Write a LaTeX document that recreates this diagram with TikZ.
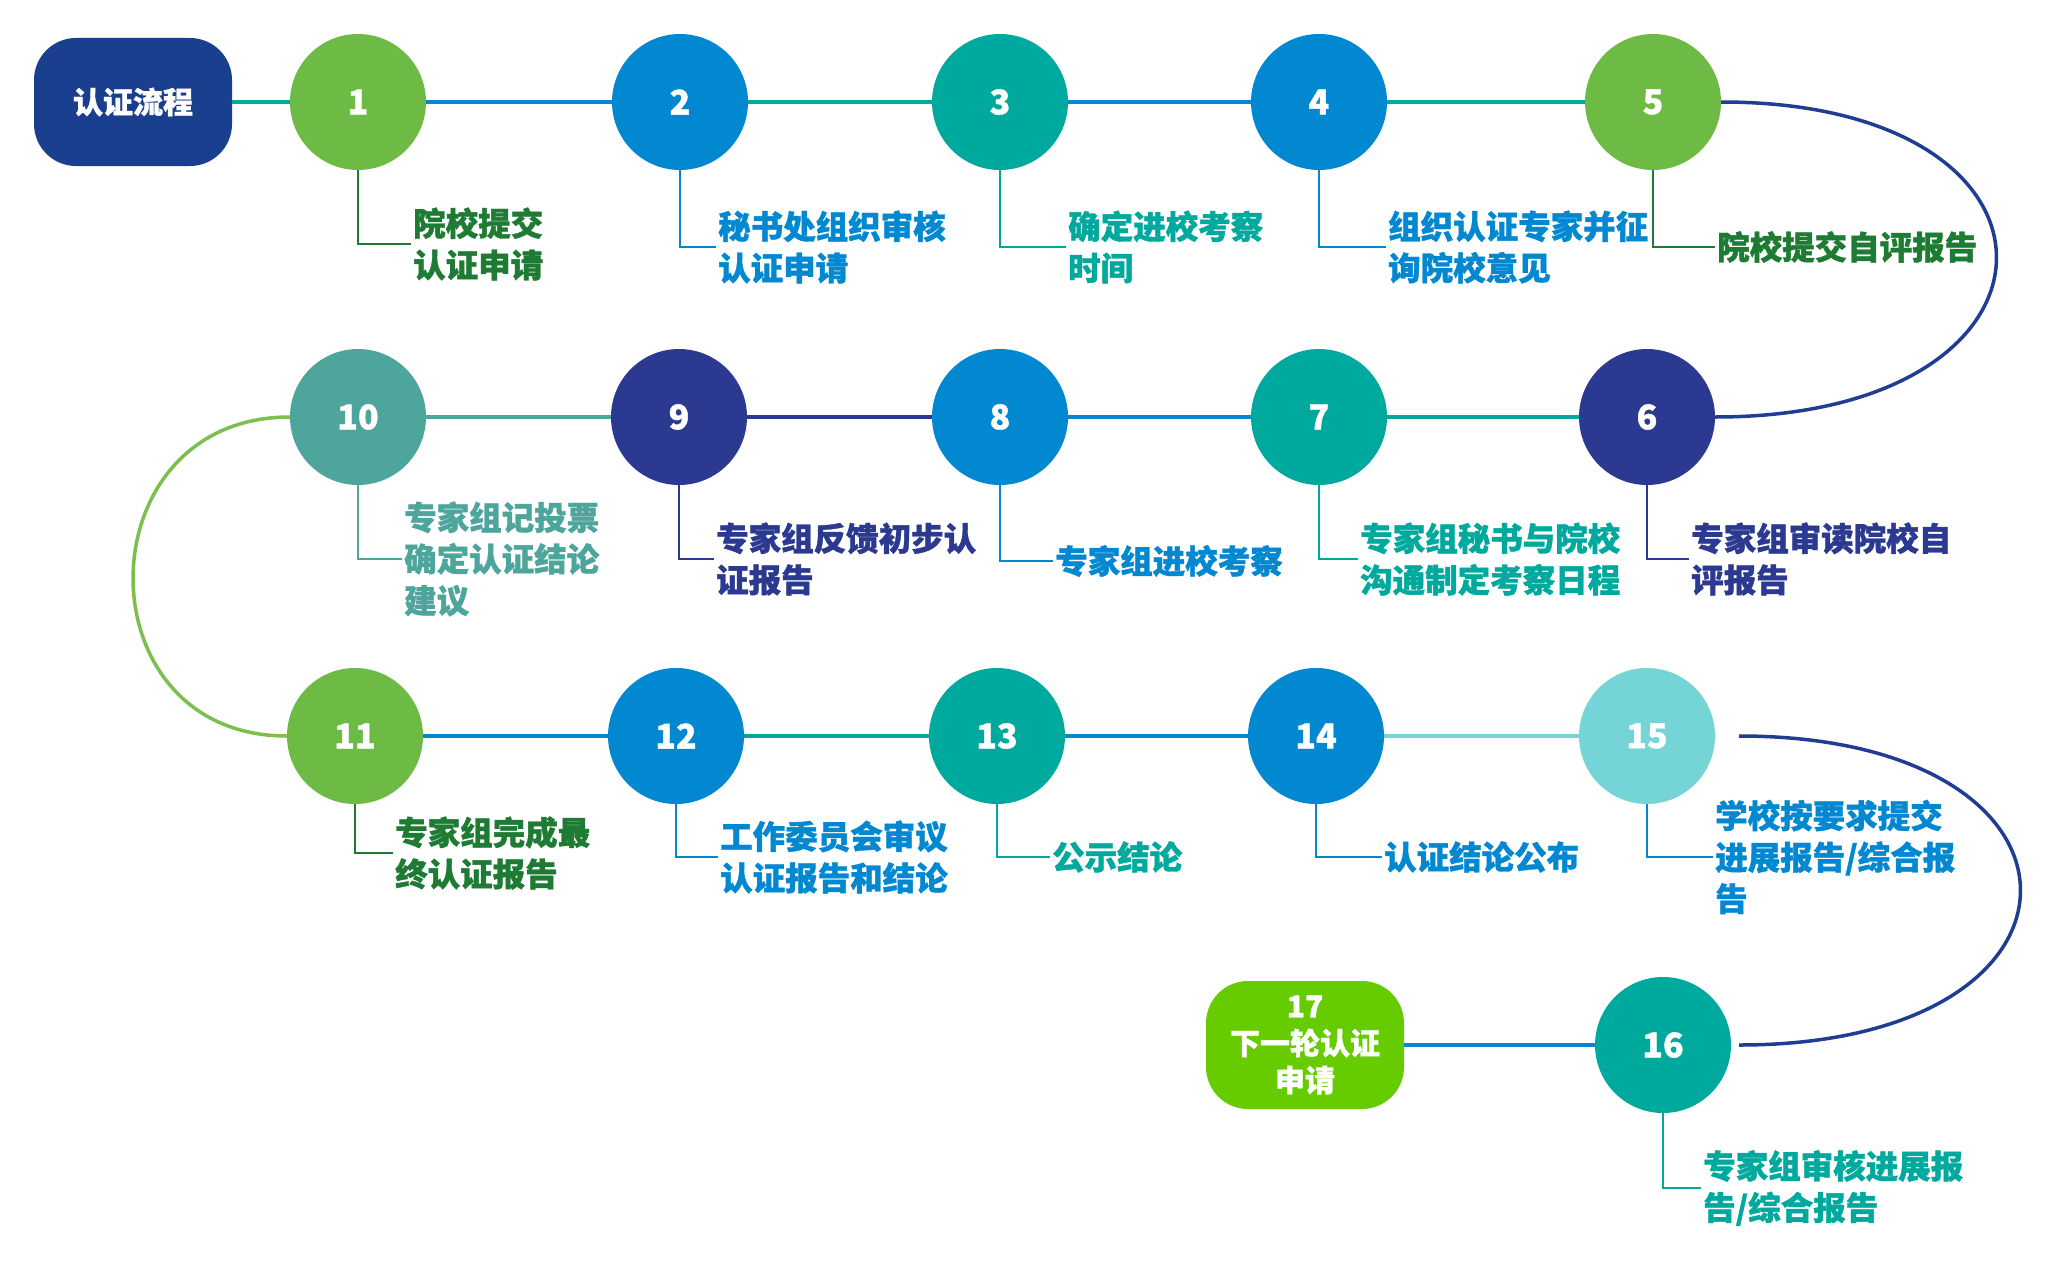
\documentclass[tikz,border=0pt]{standalone}
\usepackage{fontspec}
\setmainfont{Noto Sans CJK SC}[BoldFeatures={FakeBold=1.2}]
\definecolor{bx}{HTML}{1A3F8F}
\definecolor{grn}{HTML}{6DBA45}
\definecolor{blu}{HTML}{0288D1}
\definecolor{tea}{HTML}{00A99D}
\definecolor{nav}{HTML}{2B3990}
\definecolor{gtl}{HTML}{4DA59C}
\definecolor{cyn}{HTML}{75D4D5}
\definecolor{lim}{HTML}{66CC00}
\definecolor{dgr}{HTML}{1E7B33}
\definecolor{lgr}{HTML}{7CBF4E}
\definecolor{crv}{HTML}{1F3D92}
\begin{document}
\begin{tikzpicture}[x=1pt,y=-1pt,
  num/.style={circle, fill=#1, minimum size=136pt, inner sep=0pt, text=white, font=\bfseries\fontsize{34}{34}\selectfont},
  pill/.style={rectangle, fill=#1, rounded corners=42pt, minimum width=198pt, minimum height=128pt, inner sep=0pt, text=white, align=center},
  lbl/.style={anchor=west, text=#1, inner xsep=2pt, inner ysep=0pt, align=left, font=\bfseries\fontsize{32.5}{41.5}\selectfont},
  link/.style={draw=#1, line width=4pt},
  drop/.style={draw=#1, line width=2.5pt},
  swing/.style={draw=#1, line width=3.5pt}]
\useasboundingbox[fill=white] (0,0) rectangle (2048,1263);
% row 1
\node[pill=bx, font=\bfseries\fontsize{30}{36}\selectfont] (b0) at (133,102) {认证流程};
\node[num=grn] (c1) at (358,102) {1};
\node[num=blu] (c2) at (680,102) {2};
\node[num=tea] (c3) at (1000,102) {3};
\node[num=blu] (c4) at (1319,102) {4};
\node[num=grn] (c5) at (1653,102) {5};
% row 2
\node[num=gtl] (c10) at (358,417) {10};
\node[num=nav] (c9) at (679,417) {9};
\node[num=blu] (c8) at (1000,417) {8};
\node[num=tea] (c7) at (1319,417) {7};
\node[num=nav] (c6) at (1647,417) {6};
% row 3
\node[num=grn] (c11) at (355,736) {11};
\node[num=blu] (c12) at (676,736) {12};
\node[num=tea] (c13) at (997,736) {13};
\node[num=blu] (c14) at (1316,736) {14};
\node[num=cyn] (c15) at (1647,736) {15};
% row 4
\node[pill=lim, font=\bfseries\fontsize{30}{37}\selectfont] (b17) at (1305,1045) {17\\下一轮认证\\申请};
\node[num=tea] (c16) at (1663,1045) {16};
% horizontal links
\path[link=tea] (b0) -- (c1);
\path[link=blu] (c1) -- (c2);
\path[link=tea] (c2) -- (c3);
\path[link=blu] (c3) -- (c4);
\path[link=tea] (c4) -- (c5);
\path[link=gtl] (c10) -- (c9);
\path[link=nav] (c9) -- (c8);
\path[link=blu] (c8) -- (c7);
\path[link=tea] (c7) -- (c6);
\path[link=blu] (c11) -- (c12);
\path[link=tea] (c12) -- (c13);
\path[link=blu] (c13) -- (c14);
\path[link=cyn] (c14) -- (c15);
\path[link=blu] (b17) -- (c16);
% curves
\path[swing=crv] (c5.east) .. controls +(371,0) and +(371,0) .. (c6.east);
\path[swing=lgr] (c10.west) .. controls +(-207,0) and +(-207,0) .. (c11.west);
\coordinate (k15) at ([xshift=24pt]c15.east);
\coordinate (k16) at ([xshift=8pt]c16.east);
\path[swing=crv] (k15) .. controls +(375,0) and +(375,0) .. (k16);
% labels
\node[lbl=dgr] (t1) at (411,244) {院校提交\\认证申请};
\node[lbl=blu] (t2) at (716,247) {秘书处组织审核\\认证申请};
\node[lbl=tea] (t3) at (1066,247) {确定进校考察\\时间};
\node[lbl=blu] (t4) at (1386,247) {组织认证专家并征\\询院校意见};
\node[lbl=dgr] (t5) at (1715,247) {院校提交自评报告};
\node[lbl=gtl] (t10) at (402,559) {专家组记投票\\确定认证结论\\建议};
\node[lbl=nav] (t9) at (714,559) {专家组反馈初步认\\证报告};
\node[lbl=blu] (t8) at (1053,561) {专家组进校考察};
\node[lbl=tea] (t7) at (1358,559) {专家组秘书与院校\\沟通制定考察日程};
\node[lbl=nav] (t6) at (1689,559) {专家组审读院校自\\评报告};
\node[lbl=dgr] (t11) at (393,853) {专家组完成最\\终认证报告};
\node[lbl=blu] (t12) at (718,857) {工作委员会审议\\认证报告和结论};
\node[lbl=tea] (t13) at (1050,857) {公示结论};
\node[lbl=blu] (t14) at (1382,857) {认证结论公布};
\node[lbl=blu] (t15) at (1713,857) {学校按要求提交\\进展报告/综合报\\告};
\node[lbl=tea] (t16) at (1701,1188) {专家组审核进展报\\告/综合报告};
% drop lines
\path[drop=dgr] (c1.south) |- (t1.west);
\path[drop=blu] (c2.south) |- (t2.west);
\path[drop=tea] (c3.south) |- (t3.west);
\path[drop=blu] (c4.south) |- (t4.west);
\path[drop=dgr] (c5.south) |- (t5.west);
\path[drop=gtl] (c10.south) |- (t10.west);
\path[drop=nav] (c9.south) |- (t9.west);
\path[drop=blu] (c8.south) |- (t8.west);
\path[drop=tea] (c7.south) |- (t7.west);
\path[drop=nav] (c6.south) |- (t6.west);
\path[drop=dgr] (c11.south) |- (t11.west);
\path[drop=blu] (c12.south) |- (t12.west);
\path[drop=tea] (c13.south) |- (t13.west);
\path[drop=blu] (c14.south) |- (t14.west);
\path[drop=blu] (c15.south) |- (t15.west);
\path[drop=tea] (c16.south) |- (t16.west);
\end{tikzpicture}
\end{document}
